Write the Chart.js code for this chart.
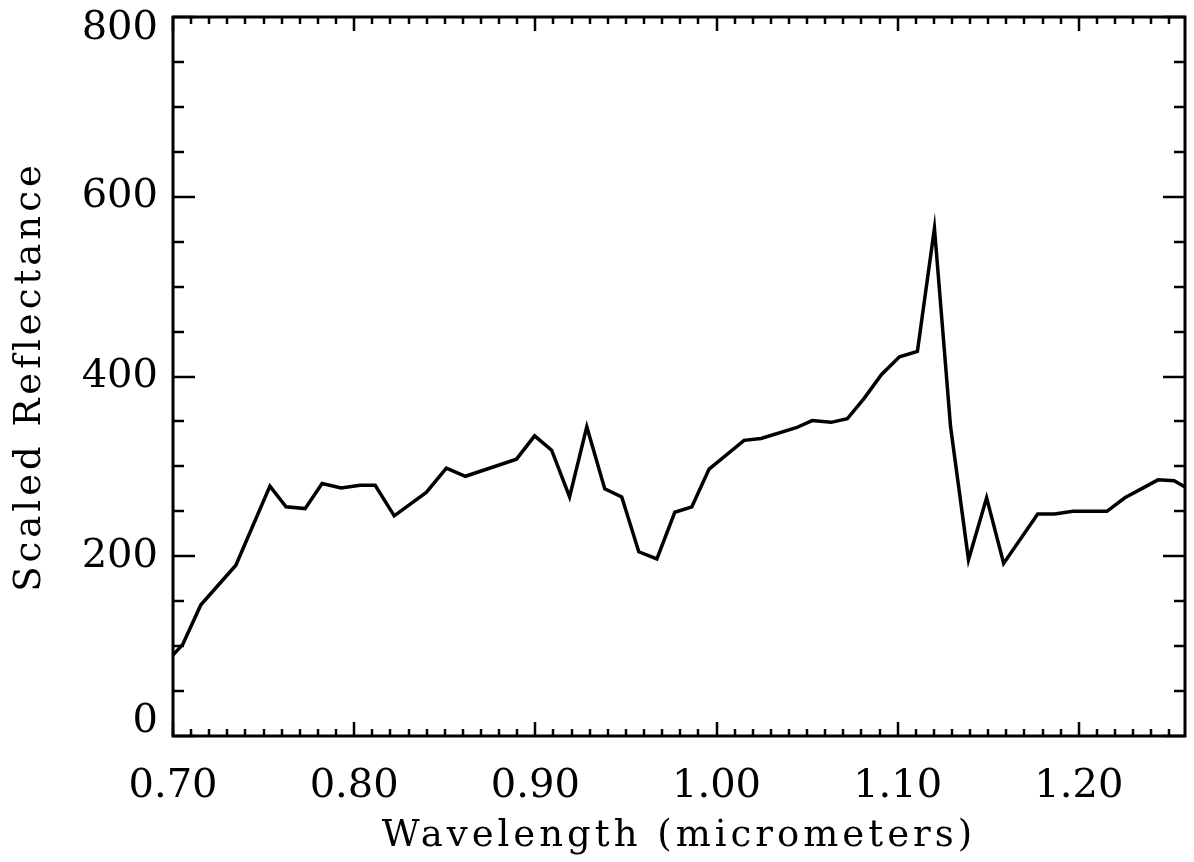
<!DOCTYPE html>
<html>
<head>
<meta charset="utf-8">
<script src="https://cdn.jsdelivr.net/npm/chart.js@4.4.1/dist/chart.umd.min.js"></script>
<style>
html,body{margin:0;padding:0;background:#fff;}
canvas{display:block;}
</style>
</head>
<body>
<canvas id="c" width="1194" height="862"></canvas>
<script>
// Data
const wavelengths = [0.700,0.7054,0.7154,0.7347,0.7535,0.7624,0.7729,0.7823,0.7928,0.8033,0.8116,0.8221,0.8398,0.8509,0.8614,0.8896,0.8996,0.9090,0.9189,0.9284,0.9383,0.9477,0.9571,0.9671,0.9770,0.9864,0.9959,1.0152,1.0246,1.0440,1.0528,1.0633,1.0722,1.0816,1.0910,1.1010,1.1109,1.1203,1.1292,1.1391,1.1491,1.1585,1.1773,1.1867,1.1967,1.2155,1.2254,1.2437,1.2526,1.2586];
const reflectance = [90,102,146,190,278,255,253,281,276,279,279,245,271,298,289,308,334,318,266,344,275,266,205,197,249,255,297,329,331,343,351,349,353,376,402,422,428,565,344,196,265,192,247,247,250,250,265,285,284,277];
const xTickLabels = [0.70,0.80,0.90,1.00,1.10,1.20];
const yTickLabels = [0,200,400,600,800];
const xMinorStep = 0.01;
const yMinorStep = 50;
const xTitle = 'Wavelength (micrometers)';
const yTitle = 'Scaled Reflectance';

const FONT = "'DejaVu Serif', serif";

const frameTicks = {
  id: 'frameTicks',
  afterLayout(chart) {
    Object.values(chart.scales).forEach(s => {
      if (s._lsPatched) return;
      const orig = s.drawTitle;
      s.drawTitle = function () {
        const c = this.ctx;
        c.letterSpacing = '4px';
        orig.apply(this, arguments);
        c.letterSpacing = '0px';
      };
      if (s.axis === 'y') {
        // keep the end labels inside the frame, as in the reference
        const origItems = s._computeLabelItems;
        s._computeLabelItems = function (ca) {
          const items = origItems.call(this, ca);
          if (items.length) {
            items[0].options.translation[1] -= 14;
            items[items.length - 1].options.translation[1] += 12;
          }
          return items;
        };
        s._labelItems = null;
      }
      s._lsPatched = true;
    });
  },
  afterDatasetsDraw(chart) {
    const {ctx, chartArea: a, scales: {x, y}} = chart;
    ctx.save();
    ctx.strokeStyle = '#000';
    ctx.lineWidth = 3;
    ctx.strokeRect(a.left, a.top, a.right - a.left, a.bottom - a.top);
    ctx.lineWidth = 2.5;
    ctx.beginPath();
    for (let i = 0; ; i++) {
      const v = x.min + i * xMinorStep;
      if (v > x.max + 1e-9) break;
      const major = Math.abs(Math.round(v * 10) - v * 10) < 1e-6;
      const len = major ? 14 : 7;
      const px = Math.round(x.getPixelForValue(v));
      ctx.moveTo(px, a.bottom); ctx.lineTo(px, a.bottom - len);
      ctx.moveTo(px, a.top); ctx.lineTo(px, a.top + len);
    }
    for (let v = y.min; v <= y.max; v += yMinorStep) {
      const major = v % 200 === 0;
      const len = major ? 22 : 11;
      const py = Math.round(y.getPixelForValue(v));
      ctx.moveTo(a.left, py); ctx.lineTo(a.left + len, py);
      ctx.moveTo(a.right, py); ctx.lineTo(a.right - len, py);
    }
    ctx.stroke();
    ctx.restore();
  }
};

new Chart(document.getElementById('c'), {
  type: 'scatter',
  data: {
    datasets: [{
      data: wavelengths.map((w, i) => ({x: w, y: reflectance[i]})),
      showLine: true,
      borderColor: '#000',
      borderWidth: 3.5,
      pointRadius: 0,
      tension: 0,
      fill: false
    }]
  },
  options: {
    responsive: false,
    devicePixelRatio: 1,
    animation: false,
    events: [],
    layout: {padding: {top: 17, right: 9, left: 0, bottom: 0}},
    plugins: {legend: {display: false}, tooltip: {enabled: false}},
    scales: {
      x: {
        type: 'linear',
        min: 0.70,
        max: 1.2586,
        afterBuildTicks: s => { s.ticks = xTickLabels.map(v => ({value: v})); },
        afterFit: s => { s.height = 862 - 736; s.paddingLeft = 0; s.paddingRight = 0; },
        grid: {display: false, drawTicks: false},
        border: {display: false},
        ticks: {
          color: '#000',
          font: {family: FONT, size: 40},
          padding: 27,
          maxRotation: 0,
          autoSkip: false,
          callback: v => Number(v).toFixed(2)
        },
        title: {
          display: true, text: xTitle, color: '#000',
          font: {family: FONT, size: 37},
          padding: {top: 0, bottom: 3}
        }
      },
      y: {
        type: 'linear',
        min: 0,
        max: 800,
        afterBuildTicks: s => { s.ticks = yTickLabels.map(v => ({value: v})); },
        afterFit: s => { s.width = 173; s.paddingTop = 0; s.paddingBottom = 0; },
        grid: {display: false, drawTicks: false},
        border: {display: false},
        ticks: {
          color: '#000',
          font: {family: FONT, size: 40},
          padding: 15,
          autoSkip: false
        },
        title: {
          display: true, text: yTitle, color: '#000',
          font: {family: FONT, size: 37},
          padding: {top: 8, bottom: 0}
        }
      }
    }
  },
  plugins: [frameTicks]
});
</script>
</body>
</html>
